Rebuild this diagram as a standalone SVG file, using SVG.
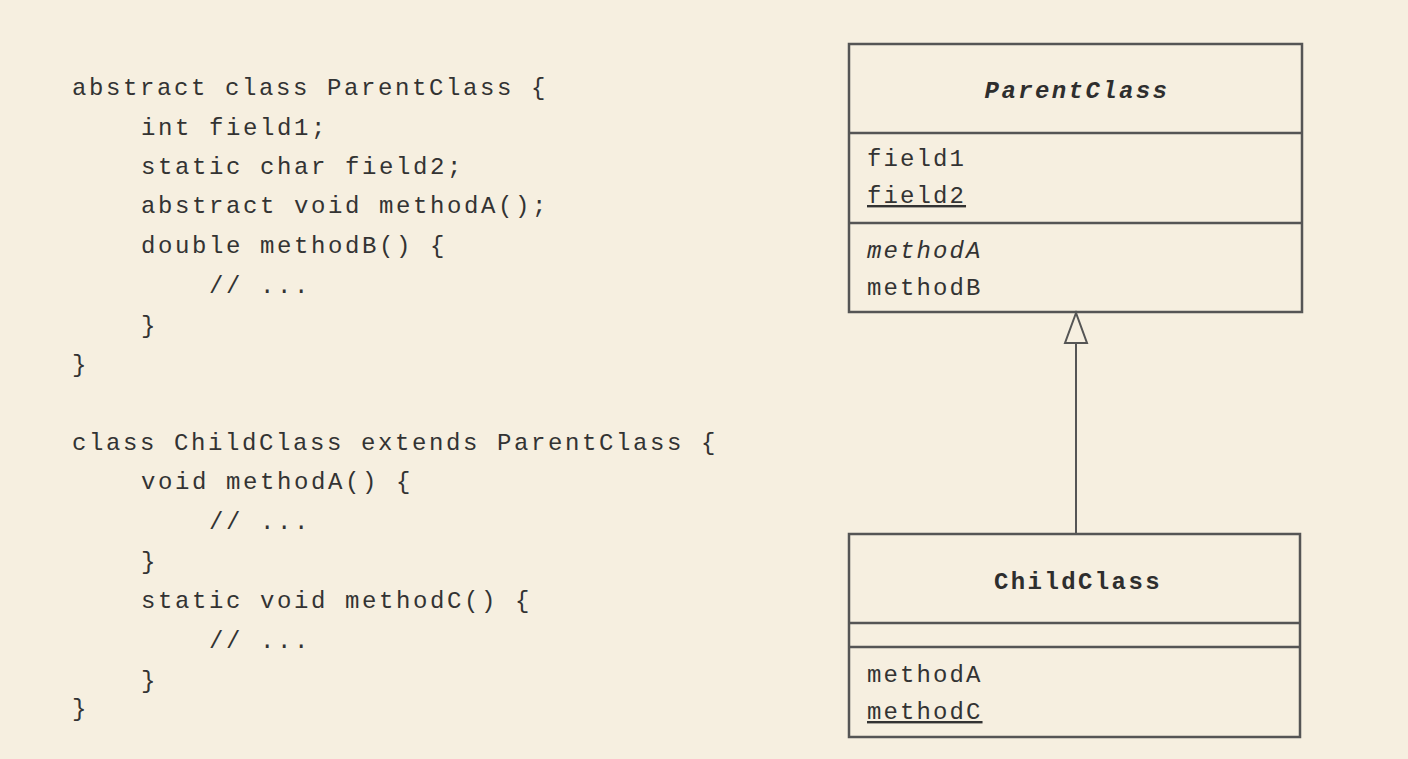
<svg xmlns="http://www.w3.org/2000/svg" width="1408" height="759" viewBox="0 0 1408 759">
<style>
.code{font-family:"Liberation Mono","DejaVu Sans Mono",monospace;font-size:24px;letter-spacing:2.6px;fill:#333}
.mem{font-family:"Liberation Mono","DejaVu Sans Mono",monospace;font-size:24px;letter-spacing:2.1px;fill:#333}
.title{font-family:"Liberation Mono","DejaVu Sans Mono",monospace;font-size:24px;font-weight:bold;letter-spacing:2.4px;fill:#2e2e2e;text-anchor:middle}
.box{fill:none;stroke:#555;stroke-width:2.5}
.line{stroke:#555;stroke-width:2.5}
.edge{stroke:#555;stroke-width:2;fill:none}
</style>
<rect x="0" y="0" width="1408" height="759" fill="#f6efe0"/>
<g id="code">
<text class="code" x="72" y="95">abstract class ParentClass {</text>
<text class="code" x="141" y="135">int field1;</text>
<text class="code" x="141" y="174">static char field2;</text>
<text class="code" x="141" y="213">abstract void methodA();</text>
<text class="code" x="141" y="253">double methodB() {</text>
<text class="code" x="209" y="293">// ...</text>
<text class="code" x="141" y="333">}</text>
<text class="code" x="72" y="372">}</text>
<text class="code" x="72" y="450">class ChildClass extends ParentClass {</text>
<text class="code" x="141" y="489">void methodA() {</text>
<text class="code" x="209" y="529">// ...</text>
<text class="code" x="141" y="569">}</text>
<text class="code" x="141" y="608">static void methodC() {</text>
<text class="code" x="209" y="648">// ...</text>
<text class="code" x="141" y="688">}</text>
<text class="code" x="72" y="716">}</text>
</g>
<g id="ParentClass">
<rect class="box" x="849" y="44" width="453" height="268"/>
<line class="line" x1="849" y1="133" x2="1302" y2="133"/>
<line class="line" x1="849" y1="223" x2="1302" y2="223"/>
<text class="title" x="1077" y="98" font-style="italic">ParentClass</text>
<text class="mem" x="867" y="166">field1</text>
<text class="mem" x="867" y="203" text-decoration="underline">field2</text>
<text class="mem" x="867" y="258" font-style="italic">methodA</text>
<text class="mem" x="867" y="295">methodB</text>
</g>
<g id="ChildClass">
<rect class="box" x="849" y="534" width="451" height="203"/>
<line class="line" x1="849" y1="623" x2="1300" y2="623"/>
<line class="line" x1="849" y1="647" x2="1300" y2="647"/>
<text class="title" x="1078" y="589">ChildClass</text>
<text class="mem" x="867" y="682">methodA</text>
<text class="mem" x="867" y="719" text-decoration="underline">methodC</text>
</g>
<g id="connectors">
<line class="edge" x1="1076" y1="343" x2="1076" y2="534"/>
<polygon class="edge" points="1076,313 1065,343 1087,343"/>
</g>
</svg>
